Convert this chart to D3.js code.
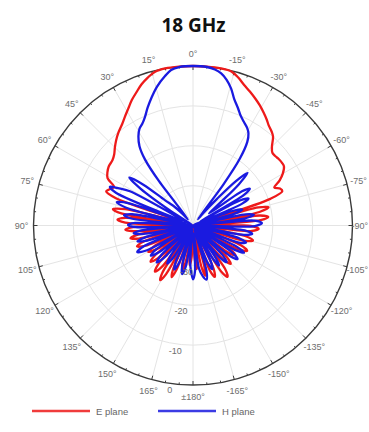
<!DOCTYPE html>
<html>
<head>
<meta charset="utf-8">
<script src="https://cdn.jsdelivr.net/npm/d3@7/dist/d3.min.js"></script>
<style>
  html, body { margin: 0; padding: 0; background: #ffffff; }
  svg { display: block; }
</style>
</head>
<body>
<svg id="chart" width="369" height="432"></svg>
<script>
// ---------------- DATA ----------------
const titleText = "18 GHz";
const seriesNames = ["E plane", "H plane"];

// angle in degrees (positive = counter-clockwise from top), value in dB
const eAngles = [-180,-177,-175,-173,-171,-168.5,-166.5,-164.5,-162,-159.5,-157,-154.5,-152,-148.5,-146,-143.5,-141,-138,-135.5,-133,-130,-127.5,-125,-122.5,-120,-117.5,-115,-112.5,-110,-106.5,-104,-101.5,-98.5,-95.5,-93,-90.5,-88,-85.5,-83.5,-81.5,-80,-78.5,-76.5,-74.5,-73,-71,-69,-67,-65,-62.5,-60,-57,-55,-52,-50,-47.5,-45,-42,-40,-37,-35,-32,-29,-26,-23,-20,-17,-14,-10,-5,0,5,10,14,17,20,23,26,29,32,35,39,42,45,48,51,55,58,61,64,66.5,68.5,70.5,72.5,76.5,78.5,80.5,82,83.5,85.5,87.5,89.5,91.5,93.5,95.5,97.5,99.5,101.5,103.5,106,108,110.5,113,115.5,118,120.5,123,125.5,128,130.5,133,135.5,138,140.5,143,145,147,149,151,153,155.5,157.5,159.5,162,164.5,166.5,168.5,171,173.5,175.5,177.5];
const eValues = [-38,-31.5,-29,-31.5,-40,-29.5,-27,-29.5,-39,-28,-26,-28,-40,-26.5,-24.5,-26.5,-38,-28.5,-26.5,-28.5,-40,-29,-27,-29,-39,-27,-25,-27,-40,-26.5,-24.5,-26.5,-38,-25.5,-23.5,-25.5,-39,-23,-21,-23,-36,-23,-20.5,-23,-37,-19.5,-16,-16.3,-17.5,-15.5,-14,-12.8,-12.7,-12.8,-13,-13,-12,-10,-9.3,-8.5,-7.7,-6.6,-5.5,-4.5,-3.5,-2.5,-1.2,-0.2,0,0,0,0,0,-0.3,-1.2,-2.3,-3.7,-5,-6.5,-7.8,-9,-10.2,-11.2,-12.3,-13.4,-14,-14.2,-14.7,-15.5,-18,-17.2,-16.6,-19.5,-37,-22.5,-19.5,-22,-37,-23,-21,-23,-38,-25,-23,-25,-39,-26,-24,-26,-40,-27,-25,-27,-39,-29,-27,-29,-40,-28,-26,-28,-38,-27,-25,-27,-39,-26,-24,-26,-40,-28,-26,-28,-39,-30.5,-28.5,-30.5,-40,-32,-30,-32];

const hAngles = [-180,-177.5,-175,-172,-169,-166,-163.5,-161,-158.5,-156,-153.5,-151,-149,-147,-145,-142.5,-140,-137.5,-135,-132,-129.5,-127,-124.5,-122.5,-120,-118,-116,-113,-110.5,-108,-105.5,-103,-100.5,-98,-95.5,-93,-90.5,-88,-85.5,-83.5,-82,-80,-78,-76,-74,-72,-70,-68,-66,-64,-62,-60.5,-59,-57,-55,-53,-50,-48,-46,-44,-42,-39.5,-38,-36.5,-35,-33,-31,-29,-26,-23.5,-21,-18,-15.5,-13,-10.5,-8,-5,0,5,8,10.5,14.5,18,21,24,26.5,29,31.5,34,36,37.5,39,42,45,48,50.5,53,55,57,59,61.5,63.5,65,67,69,71,73,75,77,79.5,81.5,83.5,85.5,87.5,89.5,91.5,93.5,95.5,97.5,99.5,102,104,106,108,110.5,113,115.5,118,120.5,123,125.5,128,130.5,133,135.5,138,141,143.5,146,148.5,151.5,154.5,157,159.5,162.5,165,167.5,170,173,175.5,177.5];
const hValues = [-26.5,-28.5,-38,-29,-27,-26,-28,-39,-30,-28,-30,-40,-30,-28,-30,-39,-29.5,-27.5,-29.5,-40,-28,-26,-28,-38,-27.5,-25.5,-27.5,-40,-28,-26,-28,-39,-27,-25,-27,-40,-24.5,-22.7,-24.5,-38,-26.5,-24.5,-26.5,-39,-29,-27,-29,-40,-26.5,-24.5,-26.5,-38,-25,-23,-25,-35,-31,-24.5,-21,-24.5,-31,-36,-38,-27,-19.5,-15,-13,-12,-11,-10,-8.5,-6.6,-4.3,-2.5,-1.2,-0.5,-0.1,0,-0.1,-0.6,-1.8,-4,-6.3,-8.3,-10.3,-11.5,-12.3,-13.8,-16,-19.5,-26,-38,-36,-33,-30.5,-24,-20,-24,-33,-40,-22,-19,-17,-19,-37,-22.5,-20,-22.5,-38,-24.5,-22.5,-24.5,-39,-25.5,-23.7,-25.5,-40,-27,-25,-27,-38,-27.5,-25.5,-27.5,-40,-26.5,-24.5,-26.5,-38,-29,-27,-29,-40,-29,-27,-29,-39,-30.5,-28.5,-30.5,-40,-30,-28,-30,-38,-29.5,-27.5,-29.5,-39,-31,-28.5];

const angleTicks = [0,15,30,45,60,75,90,105,120,135,150,165,180,-165,-150,-135,-120,-105,-90,-75,-60,-45,-30,-15];
const angleTickLabels = ["0°","15°","30°","45°","60°","75°","90°","105°","120°","135°","150°","165°","±180°","-165°","-150°","-135°","-120°","-105°","-90°","-75°","-60°","-45°","-30°","-15°"];
const radialTicks = [0,-10,-20,-30];
const radialTickLabels = ["0","-10","-20","-30"];
const radialDomain = [-40, 0];

// ---------------- LAYOUT ----------------
const W = 369;
const cx = 193, cy = 225.5, R = 159.5;
const colors = ["#ee1a1a", "#1a1ae0"];
const svg = d3.select("#chart");

const r = d3.scaleLinear().domain(radialDomain).range([0, R]).clamp(true);
const toRad = d => d * Math.PI / 180;
const px = (a, rr) => cx - rr * Math.sin(toRad(a));
const py = (a, rr) => cy - rr * Math.cos(toRad(a));

// title
svg.append("text")
  .attr("x", 193.5).attr("y", 32)
  .attr("text-anchor", "middle")
  .style("font-family", "'Open Sans', 'Liberation Sans', sans-serif")
  .style("font-weight", "bold")
  .style("font-size", "19px")
  .attr("fill", "#111")
  .text(titleText);

const g = svg.append("g");

// grid circles
g.selectAll("circle.grid").data(radialTicks.filter(v => v > radialDomain[0] && v < radialDomain[1]))
  .join("circle")
  .attr("cx", cx).attr("cy", cy).attr("r", d => r(d))
  .attr("fill", "none").attr("stroke", "#e4e4e4").attr("stroke-width", 1);

// spokes
g.selectAll("line.spoke").data(angleTicks)
  .join("line")
  .attr("x1", cx).attr("y1", cy)
  .attr("x2", d => px(d, R)).attr("y2", d => py(d, R))
  .attr("stroke", "#e4e4e4").attr("stroke-width", 1);

// outer circle
g.append("circle").attr("cx", cx).attr("cy", cy).attr("r", R)
  .attr("fill", "none").attr("stroke", "#3a3a3a").attr("stroke-width", 1.4);

// minor / major ticks
const minor = d3.range(-175, 181, 5);
g.selectAll("line.tick").data(minor)
  .join("line")
  .attr("x1", d => px(d, R)).attr("y1", d => py(d, R))
  .attr("x2", d => px(d, R - (d % 15 === 0 ? 4 : 2))).attr("y2", d => py(d, R - (d % 15 === 0 ? 4 : 2)))
  .attr("stroke", "#3a3a3a").attr("stroke-width", 1);

// angle labels (kept inside the canvas)
g.selectAll("text.alab").data(angleTicks)
  .join("text")
  .attr("x", d => px(d, R + 12)).attr("y", d => py(d, R + 12))
  .attr("text-anchor", "middle").attr("dominant-baseline", "central")
  .style("font-family", "'Liberation Sans', Arial, sans-serif")
  .style("font-size", "9px")
  .attr("fill", "#6e6e6e")
  .text((d, i) => angleTickLabels[i])
  .each(function () {
    const w = this.getComputedTextLength();
    const x = +this.getAttribute("x");
    if (x + w / 2 > W - 1) this.setAttribute("x", W - 1 - w / 2);
    if (x - w / 2 < 1) this.setAttribute("x", 1 + w / 2);
  });

// patterns
const line = d3.lineRadial()
  .angle(d => -toRad(d[0]))
  .radius(d => r(d[1]))
  .curve(d3.curveCatmullRomClosed.alpha(0.5));

const series = [
  eAngles.map((a, i) => [a, eValues[i]]),
  hAngles.map((a, i) => [a, hValues[i]])
];

const pg = g.append("g").attr("transform", `translate(${cx},${cy})`);
series.forEach((s, i) => {
  pg.append("path").attr("d", line(s))
    .attr("fill", "none").attr("stroke", colors[i])
    .attr("stroke-width", 2.3).attr("stroke-linejoin", "round");
});

// radial labels
g.selectAll("text.rlab").data(radialTicks)
  .join("text")
  .attr("x", d => px(172, r(d) + 7)).attr("y", d => py(172, r(d) + 7))
  .attr("text-anchor", "middle").attr("dominant-baseline", "central")
  .style("font-family", "'Liberation Sans', Arial, sans-serif")
  .style("font-size", "9px")
  .attr("fill", "#6e6e6e")
  .text((d, i) => radialTickLabels[i]);

// legend
const legendX = [32, 158];
seriesNames.forEach((name, i) => {
  svg.append("line")
    .attr("x1", legendX[i]).attr("x2", legendX[i] + 58)
    .attr("y1", 411).attr("y2", 411)
    .attr("stroke", colors[i]).attr("stroke-width", 2.4).attr("opacity", 0.85);
  svg.append("text")
    .attr("x", legendX[i] + 64).attr("y", 414.5)
    .style("font-family", "'Liberation Sans', Arial, sans-serif")
    .style("font-size", "9.5px")
    .attr("fill", "#666")
    .text(name);
});
</script>
</body>
</html>
